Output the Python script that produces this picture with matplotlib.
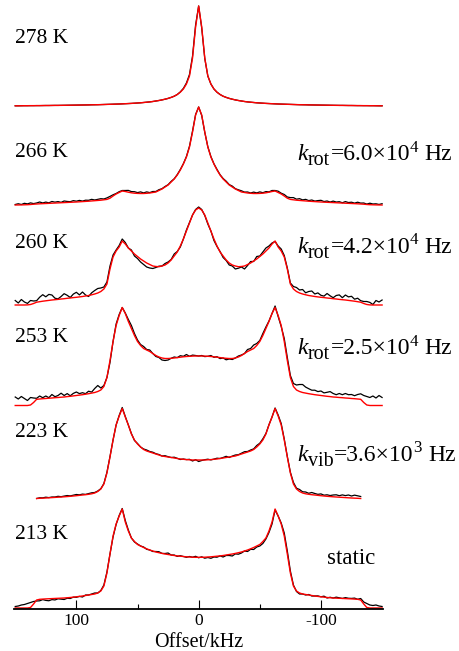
import numpy as np
import matplotlib
matplotlib.use("Agg")
import matplotlib.pyplot as plt
from matplotlib.ticker import FixedLocator

plt.rcParams["font.family"] = ["Liberation Serif", "DejaVu Serif"]
plt.rcParams["axes.unicode_minus"] = False

# ---- spectral data -------------------------------------------------------
# frequency offsets in kHz (2.5 kHz point spacing)
offset = np.linspace(150, -150, 121)
offset_223 = np.linspace(132.5, -132.5, 107)

temperatures = ["278 K", "266 K", "260 K", "253 K", "223 K", "213 K"]
# exchange-rate annotations: (subscript, mantissa, exponent)
rate_labels = [
    None,
    ("rot", "6.0", "4"),
    ("rot", "4.2", "4"),
    ("rot", "2.5", "4"),
    ("vib", "3.6", "3"),
    "static",
]

# simulated line shapes, half spectra from the outer edge to 0 kHz
# (the simulations are symmetric about 0 kHz)
fit_278_half = [
    0.2, 0.2, 0.25, 0.3, 0.3, 0.35, 0.35, 0.4, 0.4, 0.45,
    0.5, 0.5, 0.55, 0.6, 0.6, 0.65, 0.7, 0.75, 0.8, 0.85,
    0.9, 0.95, 1.0, 1.05, 1.1, 1.2, 1.25, 1.3, 1.4, 1.5,
    1.6, 1.7, 1.8, 1.9, 2.0, 2.15, 2.3, 2.45, 2.6, 2.8,
    3.0, 3.2, 3.5, 3.8, 4.1, 4.5, 5.0, 5.5, 6.1, 6.8,
    7.6, 8.6, 9.8, 11.5, 13.8, 17.0, 22.0, 30.0, 48.0, 79.0,
    100.0]
fit_266_half = [
    0.0, 0.05, 0.1, 0.2, 0.3, 0.5, 0.8, 1.0, 1.2, 1.35,
    1.5, 1.65, 1.8, 1.95, 2.1, 2.25, 2.4, 2.55, 2.7, 2.85,
    3.0, 3.2, 3.4, 3.6, 3.8, 4.05, 4.3, 4.55, 4.8, 5.2,
    5.6, 6.8, 9.0, 11.0, 12.5, 14.0, 13.5, 12.8, 12.2, 11.8,
    11.6, 11.5, 11.5, 11.7, 12.0, 12.5, 13.0, 14.5, 16.0, 18.0,
    20.0, 23.0, 26.0, 30.0, 35.0, 41.0, 48.0, 58.0, 73.0, 90.0,
    98.0]
fit_260_half = [
    0.0, 0.0, 0.0, 0.0, 0.1, 0.5, 1.5, 2.8, 3.3, 3.8,
    4.2, 4.6, 5.0, 5.3, 5.6, 6.0, 6.3, 6.7, 7.0, 7.4,
    7.7, 8.1, 8.5, 9.0, 9.5, 10.2, 11.0, 12.0, 13.5, 16.0,
    21.0, 36.0, 48.0, 54.0, 58.0, 64.0, 61.0, 57.0, 54.0, 51.0,
    48.5, 46.0, 44.0, 42.0, 40.5, 39.0, 38.5, 38.3, 39.0, 40.0,
    42.0, 45.0, 49.0, 53.0, 59.0, 66.0, 74.0, 82.0, 90.0, 95.0,
    97.0]
fit_253_half = [
    0.0, 0.0, 0.0, 0.0, 0.0, 0.5, 3.0, 6.2, 6.5, 6.8,
    7.0, 7.3, 7.5, 7.8, 8.0, 8.3, 8.5, 8.9, 9.2, 9.6,
    10.0, 10.4, 10.8, 11.3, 11.8, 12.4, 13.0, 14.0, 15.5, 19.0,
    28.0, 45.0, 64.0, 80.0, 90.0, 98.0, 92.0, 84.0, 77.0, 70.0,
    64.0, 60.0, 57.0, 55.5, 54.0, 52.0, 50.0, 48.5, 47.5, 47.0,
    47.0, 47.2, 47.5, 47.9, 48.3, 48.7, 49.0, 49.2, 49.4, 49.5,
    49.5]
fit_223_half = [
    1.5, 1.7, 1.85, 2.0, 2.2, 2.4, 2.6, 2.8, 3.0, 3.2,
    3.45, 3.7, 4.0, 4.3, 4.65, 5.0, 5.3, 5.7, 6.2, 7.0,
    8.5, 11.0, 16.0, 27.0, 43.0, 60.0, 75.0, 84.0, 91.5, 83.0,
    75.0, 66.0, 60.0, 56.0, 53.0, 50.5, 49.0, 48.0, 47.0, 46.0,
    45.0, 44.0, 43.5, 43.0, 42.5, 42.0, 41.5, 41.0, 40.7, 40.4,
    40.2, 40.0, 40.0, 40.0]
fit_213_half = [
    0.0, 0.0, 0.0, 0.0, 0.0, 0.5, 4.0, 8.0, 8.7, 8.9,
    9.1, 9.25, 9.4, 9.55, 9.7, 9.85, 10.0, 10.25, 10.5, 10.85,
    11.2, 11.6, 12.0, 12.5, 13.0, 13.5, 14.0, 15.0, 17.0, 22.0,
    35.0, 54.0, 72.0, 84.0, 92.0, 99.0, 86.0, 77.0, 70.0, 66.5,
    63.5, 62.0, 60.5, 59.2, 58.0, 57.0, 56.0, 55.3, 54.6, 54.0,
    53.5, 53.0, 52.5, 52.1, 51.8, 51.5, 51.2, 51.0, 50.8, 50.7,
    50.7]

# measured minus simulated intensity, point by point
resid_278 = [
    0, 0, 0, 0, 0, 0, 0, 0, 0, 0,
    0, 0, 0, 0, 0, 0, 0, 0, 0, 0,
    0, 0, 0, 0, 0, 0, 0, 0, 0, 0,
    0, 0, 0, 0, 0, 0, 0, 0, 0, 0,
    0, 0, 0, 0, 0, 0, 0, 0, 0, 0,
    0, 0, 0, 0, 0.3, 0.6, 1.0, 1.5, 2.0, 2.0,
    0, -1.0, -0.5, 0, 0, 0, 0, 0, 0, 0,
    0, 0, 0, 0, 0, 0, 0, 0, 0, 0,
    0, 0, 0, 0, 0, 0, 0, 0, 0, 0,
    0, 0, 0, 0, 0, 0, 0, 0, 0, 0,
    0, 0, 0, 0, 0, 0, 0, 0, 0, 0,
    0, 0, 0, 0, 0, 0, 0, 0, 0, 0, 0]
resid_266 = [
    0.5, 1.2, 0.4, 1.5, 0.8, 1.6, 0.6, 1.0, 1.8, 0.7,
    1.4, 0.5, 1.7, 0.9, 1.3, 0.4, 1.6, 1.0, 0.6, 1.5,
    0.8, 1.4, 0.5, 1.2, 0.9, 1.6, 0.7, 1.1, 1.5, 0.8,
    1.5, 1.8, 1.2, 0.5, 0.8, 0.5, 1.0, 1.8, 1.2, 1.5,
    0.8, 1.6, 0.6, 1.4, 0.4, 1.0, 0.5, 0.8, 0.3, 0.5,
    0.3, 0.6, 0.2, 0.4, 0.5, 0.3, 0.5, 0.8, 1.0, 0.5,
    0.0, -0.5, -0.3, 0.3, 0.5, 0.2, 0.6, 0.3, 0.5, 0.8,
    0.4, 0.9, 0.3, 0.7, 1.2, 0.4, 1.0, 0.3, 1.4, 0.6,
    1.5, 0.5, 1.2, 0.3, 1.0, 0.5, 1.3, 0.8, 1.5, 1.2,
    1.8, 2.2, 1.0, 1.8, 0.8, 1.6, 0.6, 1.4, 0.5, 1.2,
    1.7, 0.6, 1.3, 0.4, 1.5, 0.7, 1.2, 0.3, 1.6, 0.8,
    1.3, 0.5, 1.6, 0.9, 1.2, 0.4, 1.5, 0.8, 1.1, 0.5, 1.3]
resid_260 = [
    4.5, 2.0, 5.5, 3.0, 1.5, 4.0, 2.5, 1.5, 4.5, 6.5,
    4.0, 6.0, 5.0, 1.5, 0.5, 2.5, 5.0, 3.0, 0.5, 3.5,
    5.0, 2.0, 4.5, 1.0, -1.0, 2.0, 3.5, 4.5, 3.5, 2.0,
    2.0, 3.0, 2.0, 1.0, 1.5, 2.0, 1.5, 0.0, 1.0, -2.0,
    -2.0, -3.0, -3.5, -4.0, -3.5, -2.5, -1.0, 0.5, 0.0, 1.5,
    1.0, 0.5, 2.0, 0.5, -1.0, 0.0, 1.0, 0.5, 0.0, 0.5,
    1.0, 0.5, -0.5, -1.0, 0.0, -1.5, -0.5, 0.5, -1.5, -0.5,
    -2.0, -1.0, -3.0, -1.5, -0.5, -3.0, -1.0, 1.5, -0.5, 2.5,
    0.5, 2.0, 3.0, 2.0, 1.0, -0.5, 1.0, 2.0, 1.5, 1.0,
    1.0, 2.5, 4.0, 3.0, 4.5, 2.0, 4.0, 5.0, 2.5, 4.0,
    2.0, 1.5, 4.5, 2.5, 1.0, 3.5, 4.5, 2.0, 5.0, 3.5,
    4.5, 2.0, 3.5, 1.5, 2.0, 3.0, 2.5, 0.5, 4.5, 3.0, 5.0]
resid_253 = [
    8.5, 6.5, 9.0, 7.0, 5.0, 7.5, 4.5, 1.0, 3.0, 1.0,
    2.5, 0.5, 3.5, 1.0, 2.0, 4.0, 1.5, 3.0, 0.5, 2.5,
    3.5, 1.5, 2.0, 0.5, 2.5, 1.0, 4.0, 6.0, 2.0, 1.0,
    0.0, -2.0, 0.0, 1.5, 1.0, 0.0, 0.5, 2.0, 3.0, 2.0,
    1.5, 1.0, 2.0, 0.5, 1.5, 0.0, -1.0, -0.5, -2.0, -2.0,
    -1.5, 0.0, 1.0, 0.0, 1.5, 0.5, 2.0, 0.0, 1.0, 0.5,
    0.0, 0.5, -0.5, 0.0, 1.0, -0.5, 0.5, -1.0, 0.0, -1.5,
    -0.5, -1.0, 0.0, 1.0, 0.5, 0.0, 2.0, 1.5, 3.5, 2.0,
    1.0, 2.0, 1.5, 0.5, 0.0, 1.5, -1.0, -1.0, 3.0, 3.0,
    2.0, 3.0, 5.0, 7.0, 8.0, 6.0, 5.0, 4.0, 4.5, 3.5,
    4.5, 3.0, 4.0, 5.0, 3.5, 2.5, 4.0, 3.0, 4.5, 3.5,
    4.0, 3.0, 4.5, 5.5, 7.0, 8.5, 8.0, 9.5, 7.5, 10.0, 8.0]
resid_223 = [
    0.0, 0.5, 0.3, 0.8, 0.2, 0.6, 0.4, 0.9, 0.3, 0.7,
    1.0, 0.4, 0.8, 1.2, 0.5, 0.9, 0.3, 0.7, 1.0, 0.5,
    0.5, 0.3, 0.5, 0.8, 0.5, 0.0, 0.0, 0.5, 1.0, 0.5,
    0.0, 0.5, -0.5, 0.5, 0.0, 0.5, 1.0, 0.5, 0.8, 0.3,
    0.5, 0.0, 0.8, 0.3, 0.0, 0.8, 0.2, -0.5, 0.3, 0.0,
    0.5, -1.0, 0.3, -1.5, -0.5, 0.3, 0.6, -0.3, 0.2, 0.8,
    0.0, 0.5, 1.2, -0.5, 0.4, 1.0, 0.3, 0.8, 1.3, 0.5,
    1.0, 0.6, 1.5, 0.8, 1.2, 0.5, 0.3, 0.0, 0.5, 1.0,
    1.5, 1.0, 0.5, 0.8, 1.6, 0.8, 2.0, 1.2, 1.8, 1.0,
    2.2, 1.5, 1.0, 1.8, 0.8, 1.5, 1.0, 1.8, 2.2, 1.5,
    2.5, 2.0, 2.8, 2.0, 3.0, 2.5, 2.0]
resid_213 = [
    1.5, 2.0, 3.0, 3.5, 4.5, 5.0, 2.5, -1.0, -1.5, -0.5,
    -1.5, -2.0, -1.0, -1.5, -0.5, -1.0, -1.5, -0.5, -1.0, 0.0,
    -0.5, 0.0, -1.0, 0.5, 0.0, 0.5, 1.0, 0.0, 0.5, 1.0,
    1.0, 0.0, -1.0, -0.5, 0.5, 0.5, 1.5, 1.0, 0.0, -0.5,
    0.5, 0.0, 0.5, -0.5, 0.0, -0.5, 0.5, 1.0, 0.0, 0.5,
    1.5, 0.0, 0.5, -0.5, 0.5, 0.0, -0.5, 0.5, 0.0, 1.0,
    -0.5, 0.5, -1.0, -0.5, -1.5, -0.5, -1.0, 0.0, -1.5, -0.5,
    -1.0, -2.0, -0.5, -1.5, -1.0, 0.0, -1.5, -0.5, -2.0, -1.0,
    -1.5, -2.0, -1.0, -1.5, -2.0, -1.0, 0.0, 1.0, 3.0, 3.0,
    2.0, 1.0, -0.5, -1.0, 0.0, -0.5, 0.5, -0.5, 0.0, 0.5,
    0.0, 1.0, -0.5, 0.5, 0.0, 1.0, 0.5, 0.0, 1.0, 0.5,
    0.5, 1.0, 0.0, 1.5, 2.0, 4.0, 3.0, 2.5, 3.0, 2.0, 1.5]


def full_spectrum(half):
    """Rebuild a symmetric simulated spectrum from its half."""
    half = np.asarray(half, dtype=float)
    return np.concatenate([half, half[-2::-1]])


fits = [full_spectrum(h) for h in
        (fit_278_half, fit_266_half, fit_260_half,
         fit_253_half, fit_223_half, fit_213_half)]
resids = [np.asarray(r, dtype=float) for r in
          (resid_278, resid_266, resid_260, resid_253, resid_223, resid_213)]
axes_x = [offset, offset, offset, offset, offset_223, offset]

# ---- figure --------------------------------------------------------------
W, H = 459, 651
fig = plt.figure(figsize=(W / 100, H / 100), dpi=100)
ax = fig.add_axes([14 / W, 42 / H, (382.7 - 14) / W, 609 / H])

# vertical stacking of the traces (bottom of each trace)
stack = [503, 404, 304, 203.5, 109, 1]

for x, fit, res, base in zip(axes_x, fits, resids, stack):
    ax.plot(x, base + fit + res, color="black", lw=0.9, clip_on=False,
            solid_joinstyle="round")
    ax.plot(x, base + fit, color="#ff0000", lw=1.0, clip_on=False,
            solid_joinstyle="round")

ax.set_xlim(151, -150.5)
ax.set_ylim(0, 609)
for side in ("left", "right", "top"):
    ax.spines[side].set_visible(False)
ax.spines["bottom"].set_linewidth(1.3)
ax.set_yticks([])
ax.xaxis.set_major_locator(FixedLocator([100, 0, -100]))
ax.xaxis.set_minor_locator(FixedLocator([50, -50]))
ax.tick_params(axis="x", which="major", direction="in", length=6.2,
               width=0.8, labelsize=12.5, pad=3)
ax.tick_params(axis="x", which="minor", direction="in", length=3.6,
               width=0.8)
ax.set_xlabel("Offset/kHz", fontsize=14.5, labelpad=3)

renderer = fig.canvas.get_renderer()


def put_text(x_px, y_px, s, size, **kw):
    """Place text with its baseline-left corner at pixel (x, y from top)."""
    t = fig.text(x_px / W, 1 - y_px / H, s, fontsize=size, ha="left",
                 va="baseline", **kw)
    return t.get_window_extent(renderer).x1


def rate_text(x_px, y_px, sub, mant, power, size=17.0):
    """k_sub = mant x 10^power Hz, written piece by piece."""
    x = put_text(x_px, y_px, "k", size, style="italic")
    x = put_text(x + 0.5, y_px + 5, sub, size * 0.85)
    x = put_text(x + 0.5, y_px, "=" + mant + "\u00d710", size)
    x = put_text(x - 0.5, y_px - 8.5, power, size * 0.72)
    put_text(x + 6.5, y_px, "Hz", size)


# temperature labels on the left, exchange rates on the right
left_base = [43, 157, 248, 342, 437, 539]
right_base = [None, 160, 253, 354, 461, 564]
for name, yb in zip(temperatures, left_base):
    put_text(15, yb, name, 15.5)
for lab, yb in zip(rate_labels, right_base):
    if lab is None:
        continue
    if lab == "static":
        put_text(327, yb, lab, 16.5)
    else:
        rate_text(297, yb, *lab)

fig.savefig("out.png", dpi=100)
